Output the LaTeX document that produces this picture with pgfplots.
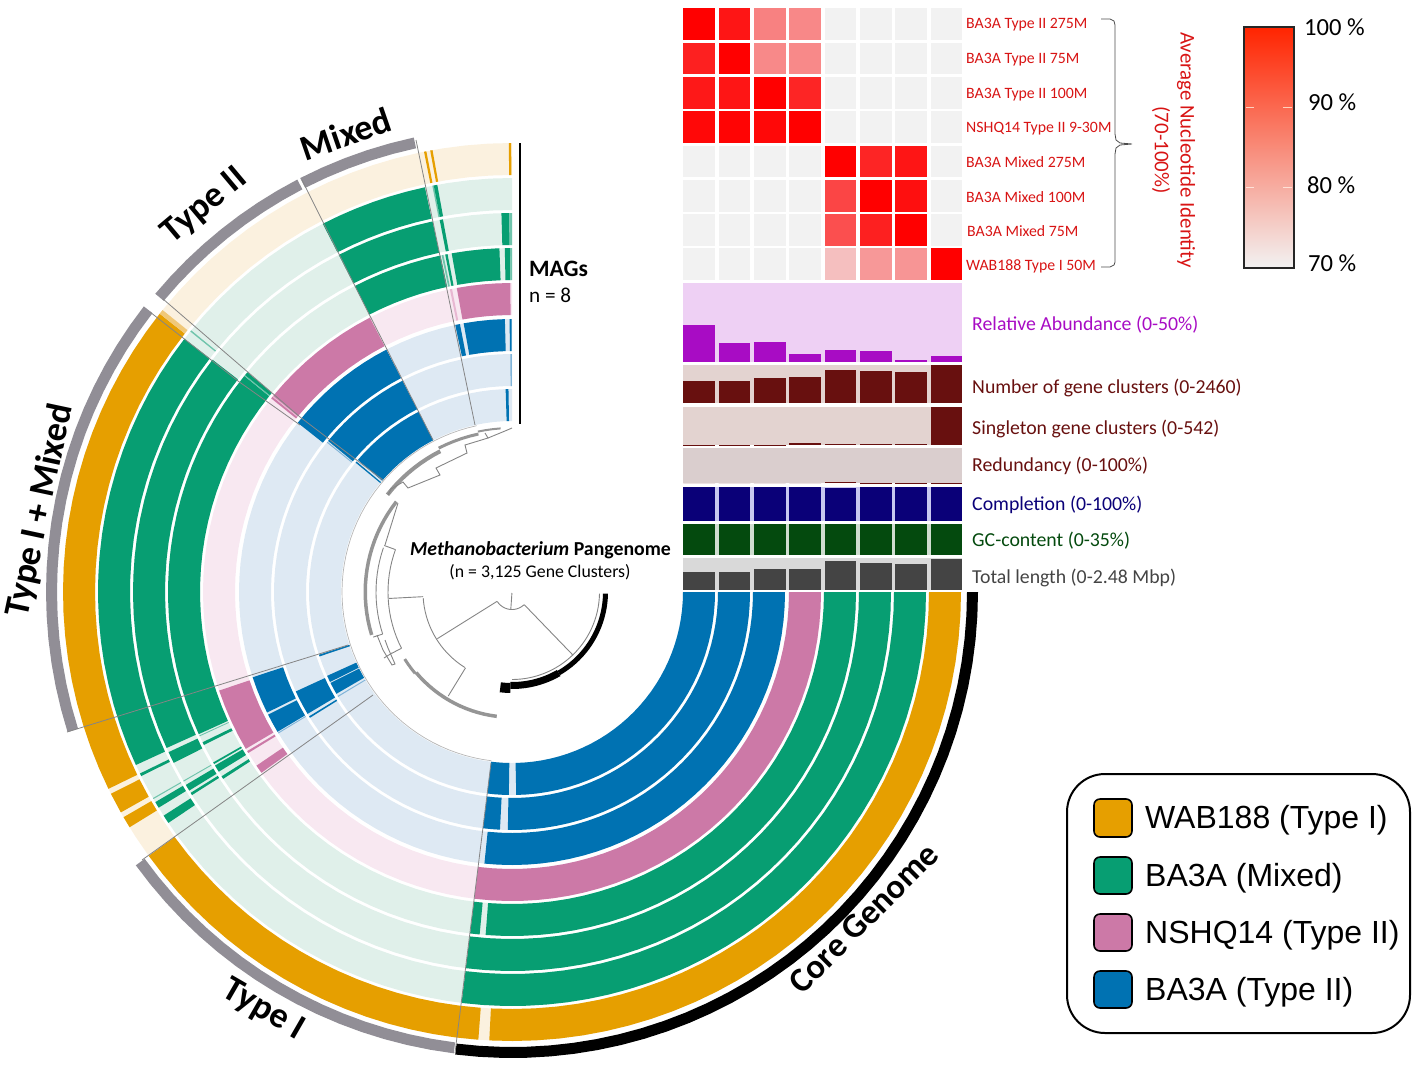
\documentclass[border=0pt]{standalone}
\usepackage{pgfplots}
\pgfplotsset{compat=1.18}
\usepackage{fontspec}
\setmainfont{Carlito}
\newfontfamily\lib{Liberation Sans}
\definecolor{cO}{HTML}{E69F00}\definecolor{cG}{HTML}{079E72}\definecolor{cP}{HTML}{CC79A7}\definecolor{cB}{HTML}{0072B2}
\definecolor{lO}{HTML}{FBF1DF}\definecolor{lG}{HTML}{E0F0EA}\definecolor{lP}{HTML}{F8E8F1}\definecolor{lB}{HTML}{DEE9F3}
\definecolor{mO}{HTML}{F0C878}\definecolor{mG}{HTML}{70C4AC}\definecolor{mP}{HTML}{E8B8D2}\definecolor{mB}{HTML}{80B4D8}
\definecolor{secgrey}{HTML}{918E96}\definecolor{tree}{HTML}{858585}\definecolor{thick}{HTML}{959595}
\definecolor{redtxt}{HTML}{D81414}\definecolor{heat0}{HTML}{F2F2F2}
\definecolor{purp}{HTML}{A80CC4}\definecolor{purpL}{HTML}{EED0F4}
\definecolor{maroon}{HTML}{68100F}\definecolor{maroonL}{HTML}{E3D3D0}\definecolor{maroonM}{HTML}{DACECE}
\definecolor{navyb}{HTML}{0A0078}\definecolor{navyL}{HTML}{C8C8F0}
\definecolor{greenb}{HTML}{044A0E}\definecolor{greenL}{HTML}{D0DDD0}
\definecolor{greyb}{HTML}{444444}\definecolor{greyL}{HTML}{D9D9D9}
% annular sector about the ring centre (512,592): colour, r1, r2, angle1, angle2
\newcommand{\sect}[5]{%
  \gdef\mylist{}%
  \pgfmathtruncatemacro\nseg{max(1,ceil(abs(#5-#4)/3))}%
  \foreach \i in {0,...,\nseg}{%
    \pgfmathsetmacro\tha{#4+(#5-#4)/\nseg*\i}%
    \pgfmathsetmacro\xx{512+#3*cos(\tha)}%
    \pgfmathsetmacro\yy{592+#3*sin(\tha)}%
    \xdef\mylist{\mylist(\xx,\yy)}%
  }%
  \foreach \i in {\nseg,...,0}{%
    \pgfmathsetmacro\tha{#4+(#5-#4)/\nseg*\i}%
    \pgfmathsetmacro\xx{512+#2*cos(\tha)}%
    \pgfmathsetmacro\yy{592+#2*sin(\tha)}%
    \xdef\mylist{\mylist(\xx,\yy)}%
  }%
  \edef\temp{\noexpand\addplot[fill=#1,draw=none] coordinates {\mylist} --cycle;}\temp
}
% ring number 1..8 (outer to inner)
\newcommand{\seg}[4]{%
  \pgfmathsetmacro\rA{{417,382,347,312,277,241,206,171}[#1-1]}%
  \pgfmathsetmacro\rB{{449,414,379,344,309,273,238,203}[#1-1]}%
  \sect{#2}{\rA}{\rB}{#3}{#4}%
}
% open arc line: r, a1, a2, colour, width
\newcommand{\arcl}[5]{%
  \gdef\mylist{}%
  \pgfmathtruncatemacro\nseg{max(1,ceil(abs(#3-#2)/3))}%
  \foreach \i in {0,...,\nseg}{%
    \pgfmathsetmacro\tha{#2+(#3-#2)/\nseg*\i}%
    \pgfmathsetmacro\xx{512+#1*cos(\tha)}%
    \pgfmathsetmacro\yy{592+#1*sin(\tha)}%
    \xdef\mylist{\mylist(\xx,\yy)}%
  }%
  \edef\temp{\noexpand\addplot[draw=#4,line width=#5pt] coordinates {\mylist};}\temp
}
% radial line: angle, r1, r2
\newcommand{\radl}[3]{%
  \pgfmathsetmacro\xa{512+#2*cos(#1)}\pgfmathsetmacro\ya{592+#2*sin(#1)}%
  \pgfmathsetmacro\xb{512+#3*cos(#1)}\pgfmathsetmacro\yb{592+#3*sin(#1)}%
  \edef\temp{\noexpand\addplot[draw=tree,line width=0.9pt] coordinates {(\xa,\ya)(\xb,\yb)};}\temp
}
\newcommand{\rect}[5]{% colour x1 y1 x2 y2
  \addplot[fill=#1,draw=none] coordinates {(#2,#3)(#4,#3)(#4,#5)(#2,#5)} --cycle;}
% bar layer: top, bottom, max, colour, values
\newcommand{\layer}[5]{%
  \foreach \vv [count=\n] in {#5}{%
    \pgfmathsetmacro\xa{683.3+35.33*(\n-1)}\pgfmathsetmacro\xb{\xa+31.7}%
    \pgfmathsetmacro\yt{#2-\vv/#3*(#2-#1)}%
    \edef\temp{\noexpand\addplot[fill=#4,draw=none] coordinates {(\xa,#2)(\xb,#2)(\xb,\yt)(\xa,\yt)} --cycle;}\temp
  }%
}
% heatmap row: row number, eight identity values
\newcommand{\heat}[2]{%
  \foreach \vv [count=\n] in {#2}{%
    \pgfmathsetmacro\xa{683.3+35.33*(\n-1)}\pgfmathsetmacro\xb{\xa+31.7}%
    \pgfmathsetmacro\ya{8.3+34.3*(#1-1)}\pgfmathsetmacro\yb{\ya+31.7}%
    \pgfmathsetmacro\pc{(\vv-70)/30*100}%
    \edef\temp{\noexpand\addplot[fill=red!\pc!heat0,draw=none] coordinates {(\xa,\ya)(\xb,\ya)(\xb,\yb)(\xa,\yb)} --cycle;}\temp
  }%
}
\newcommand{\fs}[1]{\fontsize{#1}{#1}\selectfont}
\begin{document}
\begin{tikzpicture}
\begin{axis}[scale only axis,width=1418pt,height=1066pt,xmin=0,xmax=1418,ymin=0,ymax=1066,y dir=reverse,hide axis,clip=false]
% light ring backgrounds
\seg{1}{lO}{0}{270}
\seg{2}{lG}{0}{270}\seg{3}{lG}{0}{270}\seg{4}{lG}{0}{270}
\seg{5}{lP}{0}{270}
\seg{6}{lB}{0}{270}\seg{7}{lB}{0}{270}\seg{8}{lB}{0}{270}
% ring 1 WAB188
\seg{1}{cO}{0}{92.9}\seg{1}{cO}{94.3}{144}\seg{1}{cO}{148.4}{149.9}\seg{1}{cO}{150.6}{153.3}\seg{1}{cO}{154}{218.3}\seg{1}{mO}{218.3}{218.9}
\seg{1}{cO}{258.7}{259.0}\seg{1}{cO}{259.5}{259.8}\seg{1}{cO}{269.6}{269.9}
% ring 2
\seg{2}{cG}{0}{97}\seg{2}{cG}{146.1}{147.3}\seg{2}{cG}{148.6}{149.5}\seg{2}{mG}{150}{150.15}\seg{2}{cG}{153.6}{154}\seg{2}{cG}{155.3}{217.7}
\seg{2}{mG}{219}{219.2}\seg{2}{cG}{242.8}{257.85}\seg{2}{mG}{258.9}{259.1}\seg{2}{cG}{259.1}{259.6}
% ring 3
\seg{3}{cG}{0}{97}\seg{3}{cG}{147.6}{148}\seg{3}{cG}{148.4}{149.4}\seg{3}{mG}{150}{150.15}\seg{3}{cG}{153.2}{155}\seg{3}{cG}{155.7}{217.8}
\seg{3}{cG}{242.8}{257.9}\seg{3}{cG}{259}{259.5}\seg{3}{cG}{268.4}{269.6}\seg{3}{mG}{269.6}{270}
% ring 4
\seg{4}{cG}{0}{94.4}\seg{4}{cG}{95.4}{97}\seg{4}{cG}{147.1}{147.6}\seg{4}{cG}{148.5}{149.7}\seg{4}{cG}{150}{150.3}\seg{4}{cG}{153.6}{154.1}\seg{4}{mG}{155.2}{155.35}
\seg{4}{cG}{155.6}{218.9}\seg{4}{mG}{218.9}{219.1}\seg{4}{cG}{219.1}{219.7}
\seg{4}{cG}{242.8}{258.0}\seg{4}{mG}{258.2}{258.5}\seg{4}{cG}{258.8}{259.2}\seg{4}{cG}{259.9}{267.9}\seg{4}{cG}{268.8}{269.7}\seg{4}{mG}{269.7}{270}
% ring 5
\seg{5}{cP}{0}{97}\seg{5}{cP}{144.2}{145.8}\seg{5}{cP}{148.6}{149}\seg{5}{cP}{149.5}{161.4}\seg{5}{cP}{218.8}{219.2}\seg{5}{mP}{219.2}{219.4}\seg{5}{cP}{219.4}{242.6}
\seg{5}{mP}{258.4}{258.8}\seg{5}{cP}{259.7}{269.7}
% ring 6
\seg{6}{cB}{0}{95.8}\seg{6}{mB}{148.8}{149}\seg{6}{cB}{149.2}{153.3}\seg{6}{cB}{153.8}{161.8}\seg{6}{cB}{218.3}{242.6}
\seg{6}{cB}{258}{259}\seg{6}{cB}{259.8}{268.5}\seg{6}{cB}{269.5}{269.9}
% ring 7
\seg{7}{cB}{0}{91}\seg{7}{cB}{92.9}{97}\seg{7}{cB}{148.1}{148.5}\seg{7}{cB}{149.2}{155.3}\seg{7}{mB}{218.9}{219.15}\seg{7}{cB}{219.4}{242.6}\seg{7}{mB}{269.6}{269.95}
% ring 8
\seg{8}{cB}{0}{88.8}\seg{8}{cB}{90.9}{97}\seg{8}{mB}{148.9}{149.2}\seg{8}{cB}{149.9}{153.4}\seg{8}{cB}{153.7}{155.6}\seg{8}{cB}{161.5}{162}\seg{8}{cB}{219.6}{220}\seg{8}{cB}{220.6}{242.6}\seg{8}{cB}{268.2}{269}
% section arcs
\sect{black}{455}{466}{0}{97}
\sect{secgrey}{454}{465}{97.2}{144}
\sect{secgrey}{455}{466}{162.5}{217.8}
\sect{secgrey}{454}{465}{219.9}{242.5}
\sect{secgrey}{454}{465}{242.9}{257.8}
% inner circle and section lines
\arcl{170}{97}{258}{tree!60!white}{0.7}
\addplot[draw=tree,line width=0.8pt] coordinates {(455,1053)(491,763)};
\addplot[draw=tree,line width=0.8pt] coordinates {(142,860)(373,695)};
\addplot[draw=tree,line width=0.8pt] coordinates {(67,732)(348,645)};
\addplot[draw=tree,line width=0.8pt] coordinates {(150,312)(238,381)(300,425)};
\addplot[draw=tree,line width=0.8pt] coordinates {(163,299)(300,417)(383,480)};
\addplot[draw=tree,line width=0.8pt] coordinates {(302,180)(367,310)(433,440)};
\addplot[draw=tree,line width=0.8pt] coordinates {(416,140)(475,425)};
% MAGs line
\addplot[draw=black,line width=2.6pt] coordinates {(520,143)(520,424)};
% dendrogram
\sect{black}{91}{96}{1}{60}
\sect{black}{90}{97}{60}{91}
\sect{black}{91}{101}{91}{97}
\arcl{87.5}{1}{90}{tree}{0.9}
\arcl{17.5}{47}{147}{tree}{0.9}
\radl{94}{1}{17}\radl{46}{17.5}{88}\radl{148}{17.5}{88}
\arcl{89}{122}{176}{tree}{0.9}
\radl{177}{89}{123}\radl{121.5}{89}{122}
\sect{thick}{123.5}{127}{97}{140}
\sect{thick}{125}{128}{140}{148}
\arcl{124}{153}{200}{tree}{0.9}
\radl{200}{124}{136}\radl{153}{124}{135}
\arcl{136}{162}{199}{tree}{0.9}
\radl{162}{136}{146}
\sect{thick}{145}{148.5}{163}{218}
\addplot[draw=tree,line width=0.9pt] coordinates {(385,545)(398,503)};
\addplot[draw=tree,line width=0.9pt] coordinates {(377,635)(383,650)(392,665)(395,664)(388,648)(385,640)};
\addplot[draw=tree,line width=0.9pt] coordinates {(392,653)(384,658)};
\sect{thick}{156}{160}{218}{243}
\sect{thick}{160}{163}{243}{258}
\sect{thick}{163}{165}{258}{266}
\addplot[draw=tree,line width=0.9pt] coordinates {(388,495)(391,489)(403,482)(408,488)(440,475)(436,468)(467,453)(465,445)(488,438)(485,433)};
\addplot[draw=tree,line width=0.9pt] coordinates {(488,438)(505,431)(512,428)};
% heatmap
\heat{1}{100,97.4,84,83.2,70,70,70,70}
\heat{2}{96,100,83,83,70,70,70,70}
\heat{3}{97,97.4,100,95.4,70,70,70,70}
\heat{4}{99,99.5,99,100,70,70,70,70}
\heat{5}{70,70,70,70,100,95.4,97.4,70}
\heat{6}{70,70,70,70,91.5,100,98.1,70}
\heat{7}{70,70,70,70,90.2,96,100,70}
\heat{8}{70,70,70,70,76.3,81.1,81.5,100}
% bar layers
\rect{purpL}{683.3}{283.3}{961.7}{362.3}
\layer{283.3}{362.3}{50}{purp}{23.6,12,13,5.1,7.8,7.4,1.5,4}
\rect{maroonL}{683.3}{365}{961.7}{403.3}
\layer{365}{403.3}{2460}{maroon}{1433,1412,1647,1690,2160,2054,2032,2439}
\rect{maroonL}{683.3}{406.7}{961.7}{445}
\layer{406.7}{445}{542}{maroon}{1,2,1,24,9,9,14,542}
\rect{maroonM}{683.3}{447.7}{961.7}{483.3}
\layer{447.7}{483.3}{100}{maroon}{0,0,0,0,3,1.5,1.5,1.5}
\rect{navyL}{683.3}{486.7}{961.7}{521}
\layer{486.7}{521}{100}{navyb}{100,100,100,100,97,99,99,99}
\rect{greenL}{683.3}{524}{961.7}{555}
\layer{524}{555}{35}{greenb}{35,35,35,35,35,35,35,35}
\rect{greyL}{683.3}{558.3}{961.7}{590}
\layer{558.3}{590}{2.48}{greyb}{1.38,1.38,1.62,1.64,2.30,2.14,2.06,2.45}
% brace
\addplot[draw=black!70,line width=0.8pt] coordinates {(1101,19)(1110,19)(1114,21)(1115,25)(1115,134)(1116,140)(1120,143)(1132,144)(1120,145)(1116,148)(1115,154)(1115,262)(1114,265)(1110,267)(1101,267)};
% colour bar
\shade[top color={rgb,255:red,255;green,36;blue,0},bottom color=heat0] (axis cs:1244,27) rectangle (axis cs:1294,268);
\addplot[draw=black!85,line width=1.8pt] coordinates {(1244,27)(1294,27)(1294,268)(1244,268)} --cycle;
\addplot[draw={rgb,255:red,255;green,210;blue,190},line width=1pt] coordinates {(1246,107)(1254,107)};
\addplot[draw={rgb,255:red,255;green,210;blue,190},line width=1pt] coordinates {(1283,107)(1292,107)};
\addplot[draw={rgb,255:red,255;green,225;blue,215},line width=1pt] coordinates {(1246,187)(1254,187)};
\addplot[draw={rgb,255:red,255;green,225;blue,215},line width=1pt] coordinates {(1283,187)(1292,187)};
\node[anchor=west,inner sep=0,font=\fs{24.6}] at (axis cs:1304,27.5) {100 \%};
\node[anchor=west,inner sep=0,font=\fs{24.6}] at (axis cs:1308,102.5) {90 \%};
\node[anchor=west,inner sep=0,font=\fs{24.6}] at (axis cs:1307,185.5) {80 \%};
\node[anchor=west,inner sep=0,font=\fs{24.6}] at (axis cs:1308,263.5) {70 \%};
% heat labels
\foreach \yy/\xx/\lab in {24.5/966/BA3A Type II 275M,59.5/966/BA3A Type II 75M,94.5/966/BA3A Type II 100M,128.5/966/NSHQ14 Type II 9-30M,162/966/BA3A Mixed 275M,197/966/BA3A Mixed 100M,231/967/BA3A Mixed 75M,266/966/WAB188 Type I 50M}{%
  \edef\temp{\noexpand\node[anchor=west,inner sep=0,text=redtxt,font=\noexpand\fs{15.8}] at (axis cs:\xx,\yy) {\lab};}\temp}
\node[rotate=-90,inner sep=0,text=redtxt,font=\fs{20.9}] at (axis cs:1186,150) {Average Nucleotide Identity};
\node[rotate=-90,inner sep=0,text=redtxt,font=\fs{20.9}] at (axis cs:1161,150) {(70-100\%)};
% bar labels
\node[anchor=west,inner sep=0,text=purp,font=\fs{19.8}] at (axis cs:972,325) {Relative Abundance (0-50\%)};
\node[anchor=west,inner sep=0,text=maroon,font=\fs{19.8}] at (axis cs:972,388) {Number of gene clusters (0-2460)};
\node[anchor=west,inner sep=0,text=maroon,font=\fs{19.8}] at (axis cs:972,428.5) {Singleton gene clusters (0-542)};
\node[anchor=west,inner sep=0,text=maroon,font=\fs{19.8}] at (axis cs:972,465.5) {Redundancy (0-100\%)};
\node[anchor=west,inner sep=0,text=navyb,font=\fs{19.8}] at (axis cs:972,504.5) {Completion (0-100\%)};
\node[anchor=west,inner sep=0,text=greenb,font=\fs{19.8}] at (axis cs:972,540.5) {GC-content (0-35\%)};
\node[anchor=west,inner sep=0,text=greyb,font=\fs{19.8}] at (axis cs:972,577.5) {Total length (0-2.48 Mbp)};
% centre and MAG labels
\node[inner sep=0,font=\fs{19.8}] at (axis cs:540.5,550.5) {\textbf{\textit{Methanobacterium} Pangenome}};
\node[inner sep=0,font=\fs{17.8}] at (axis cs:540,572) {(n = 3,125 Gene Clusters)};
\node[anchor=west,inner sep=0,font=\fs{23.5}\bfseries] at (axis cs:529,269) {MAGs};
\node[anchor=west,inner sep=0,font=\fs{21.2}] at (axis cs:529,295.5) {n = 8};
% section titles
\node[rotate=19,inner sep=0,font=\fs{36}\bfseries] at (axis cs:346,134) {Mixed};
\node[rotate=40,inner sep=0,font=\fs{36}\bfseries] at (axis cs:205,206) {Type II};
\node[rotate=78,inner sep=0,font=\fs{36}\bfseries] at (axis cs:40,511) {Type I + Mixed};
\node[rotate=-30,inner sep=0,font=\fs{36}\bfseries] at (axis cs:263,1010) {Type I};
\node[rotate=45,inner sep=0,font=\fs{34.5}\bfseries] at (axis cs:864,918) {Core Genome};
% legend
\draw[black,line width=2pt,fill=white,rounded corners=38pt] (axis cs:1067,774) rectangle (axis cs:1410,1033);
\foreach \ya/\yb/\ccc/\lab in {799/837/cO/WAB188 (Type I),857/894/cG/BA3A (Mixed),914/951/cP/NSHQ14 (Type II),971/1008/cB/BA3A (Type II)}{%
  \pgfmathsetmacro\ym{(\ya+\yb)/2+2.5}%
  \edef\temp{\noexpand\draw[black,line width=1.6pt,fill=\ccc,rounded corners=6pt] (axis cs:1094,\ya) rectangle (axis cs:1132,\yb);
  \noexpand\node[anchor=west,inner sep=0,font=\noexpand\lib\noexpand\fs{32}] at (axis cs:1145,\ym) {\lab};}\temp}
\end{axis}
\pgfresetboundingbox
\path[use as bounding box] (0,0) rectangle (1418pt,1066pt);
\end{tikzpicture}
\end{document}
